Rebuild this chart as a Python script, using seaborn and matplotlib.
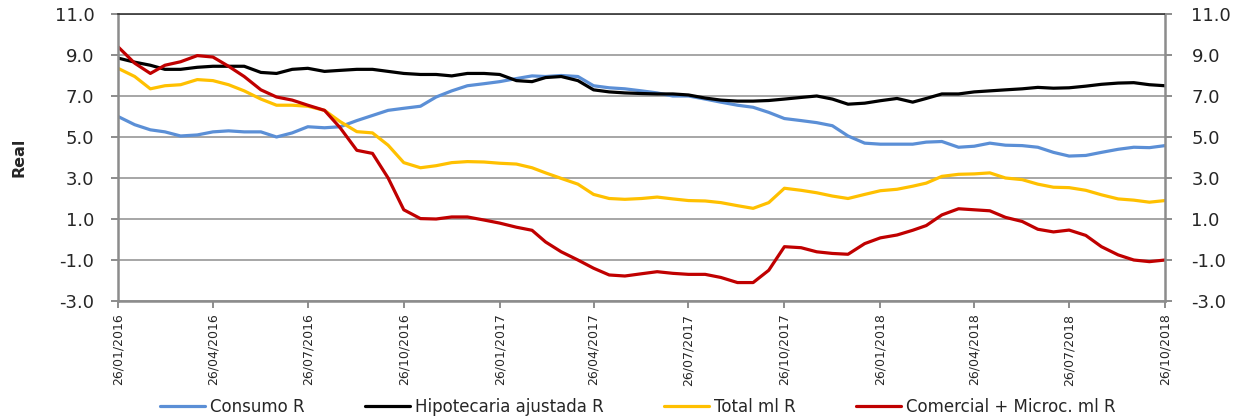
import pandas as pd
import numpy as np
import matplotlib
matplotlib.use("Agg")
import matplotlib.pyplot as plt
from matplotlib.lines import Line2D
from matplotlib.ticker import FormatStrFormatter
import seaborn as sns

# ---- Datos (cada ~quincena: dias 26 y 11) ----
meses = pd.date_range("2016-01-01", "2018-10-01", freq="MS")
fechas = sorted([m + pd.Timedelta(days=25) for m in meses] +
                [m + pd.DateOffset(months=1, days=10) for m in meses[:-1]])

consumo = [6.0, 5.6, 5.35, 5.25, 5.05, 5.1, 5.25, 5.3, 5.25, 5.25,
           5.0, 5.2, 5.5, 5.45, 5.5, 5.8, 6.05, 6.3, 6.4, 6.5,
           6.95, 7.25, 7.5, 7.6, 7.7, 7.85, 7.98, 7.95, 8.0, 7.95,
           7.5, 7.4, 7.35, 7.25, 7.15, 7.0, 7.0, 6.85, 6.7, 6.55,
           6.45, 6.2, 5.9, 5.8, 5.7, 5.55, 5.05, 4.7, 4.65, 4.65,
           4.65, 4.75, 4.78, 4.5, 4.55, 4.7, 4.6, 4.58, 4.5, 4.25,
           4.07, 4.1, 4.25, 4.4, 4.5, 4.48, 4.58]

hipotecaria = [8.85, 8.65, 8.5, 8.3, 8.3, 8.4, 8.45, 8.45, 8.45, 8.15,
               8.1, 8.3, 8.35, 8.2, 8.25, 8.3, 8.3, 8.2, 8.1, 8.05,
               8.05, 7.98, 8.1, 8.1, 8.05, 7.75, 7.7, 7.9, 7.95, 7.75,
               7.3, 7.2, 7.15, 7.12, 7.1, 7.1, 7.05, 6.9, 6.8, 6.75,
               6.75, 6.78, 6.85, 6.93, 7.0, 6.85, 6.6, 6.65, 6.77, 6.88,
               6.7, 6.88, 7.1, 7.1, 7.2, 7.25, 7.3, 7.35, 7.42, 7.38,
               7.4, 7.48, 7.57, 7.63, 7.65, 7.55, 7.5]

total = [8.35, 7.95, 7.35, 7.5, 7.55, 7.8, 7.75, 7.55, 7.25, 6.85,
         6.55, 6.55, 6.5, 6.3, 5.75, 5.26, 5.2, 4.6, 3.75, 3.5,
         3.6, 3.75, 3.8, 3.78, 3.72, 3.68, 3.5, 3.25, 2.98, 2.7,
         2.2, 2.0, 1.96, 2.0, 2.07, 1.98, 1.9, 1.88, 1.8, 1.65,
         1.52, 1.8, 2.5, 2.4, 2.28, 2.12, 2.0, 2.2, 2.38, 2.45,
         2.6, 2.75, 3.08, 3.18, 3.2, 3.25, 3.0, 2.92, 2.7, 2.55,
         2.53, 2.4, 2.18, 1.98, 1.92, 1.82, 1.9]

comercial = [9.4, 8.6, 8.1, 8.5, 8.67, 8.97, 8.9, 8.45, 7.95, 7.3,
             6.95, 6.8, 6.55, 6.3, 5.45, 4.35, 4.2, 3.0, 1.45, 1.02,
             1.0, 1.1, 1.1, 0.95, 0.8, 0.6, 0.45, -0.12, -0.6, -1.0,
             -1.4, -1.73, -1.78, -1.67, -1.57, -1.65, -1.7, -1.7, -1.85, -2.1,
             -2.1, -1.5, -0.35, -0.4, -0.6, -0.68, -0.72, -0.2, 0.08, 0.22,
             0.45, 0.68, 1.2, 1.5, 1.45, 1.4, 1.08, 0.88, 0.5, 0.37,
             0.46, 0.2, -0.35, -0.75, -1.0, -1.08, -1.0]

series = ["Consumo R", "Hipotecaria ajustada R", "Total ml R", "Comercial + Microc. ml R"]
colores = ["#5B8FD6", "#000000", "#FFC000", "#C00000"]

df = pd.DataFrame({"fecha": fechas, series[0]: consumo, series[1]: hipotecaria,
                   series[2]: total, series[3]: comercial})
df_long = df.melt(id_vars="fecha", var_name="serie", value_name="valor")

# ---- Grafico ----
sns.set_style("white")
plt.rcParams["font.family"] = ["DejaVu Sans"]

fig = plt.figure(figsize=(12.41, 4.2), dpi=100)
ax = fig.add_axes([0.0951, 0.2833, 0.8437, 0.6834])

sns.lineplot(data=df_long, x="fecha", y="valor", hue="serie", hue_order=series,
             palette=colores, linewidth=2.3, ax=ax, legend=False)

yticks = np.arange(-3, 11.1, 2)
ax.set_xlim(fechas[0], fechas[-1])
ax.set_ylim(-3, 11)
ax.set_yticks(yticks)
ax.yaxis.set_major_formatter(FormatStrFormatter("%.1f"))
ax.yaxis.grid(True, color="#A6A6A6", linewidth=1.4)
ax.set_axisbelow(True)

xticks = [m + pd.Timedelta(days=25) for m in pd.date_range("2016-01-01", "2018-10-01", freq="3MS")]
ax.set_xticks(xticks)
ax.set_xticklabels([d.strftime("%d/%m/%Y") for d in xticks], rotation=90, fontsize=9)
ax.set_xlabel("")
ax.set_ylabel("Real", fontsize=11.5, fontweight="bold", labelpad=20)

for s in ["left", "right", "bottom"]:
    ax.spines[s].set_color("#8C8C8C")
    ax.spines[s].set_linewidth(1.8)
ax.spines["top"].set_color("#333333")
ax.spines["top"].set_linewidth(1.2)
ax.tick_params(axis="y", labelsize=13, length=5, width=1.4, color="#8C8C8C", pad=12, left=True)
ax.tick_params(axis="x", length=5, width=1.4, color="#8C8C8C", pad=4, bottom=True)

ax2 = ax.twinx()
ax2.set_ylim(-3, 11)
ax2.set_yticks(yticks)
ax2.yaxis.set_major_formatter(FormatStrFormatter("%.1f"))
ax2.tick_params(axis="y", labelsize=13, length=5, width=1.4, color="#8C8C8C", pad=14, right=True)
for s in ax2.spines.values():
    s.set_visible(False)

handles = [Line2D([], [], color=c, linewidth=2.3) for c in colores]
fig.legend(handles, series, loc="center", bbox_to_anchor=(0.514, 0.031), ncol=4,
           frameon=False, fontsize=12, handlelength=2.7, handletextpad=0.3, columnspacing=3.6)

plt.savefig("out.png", dpi=100)
plt.close()
